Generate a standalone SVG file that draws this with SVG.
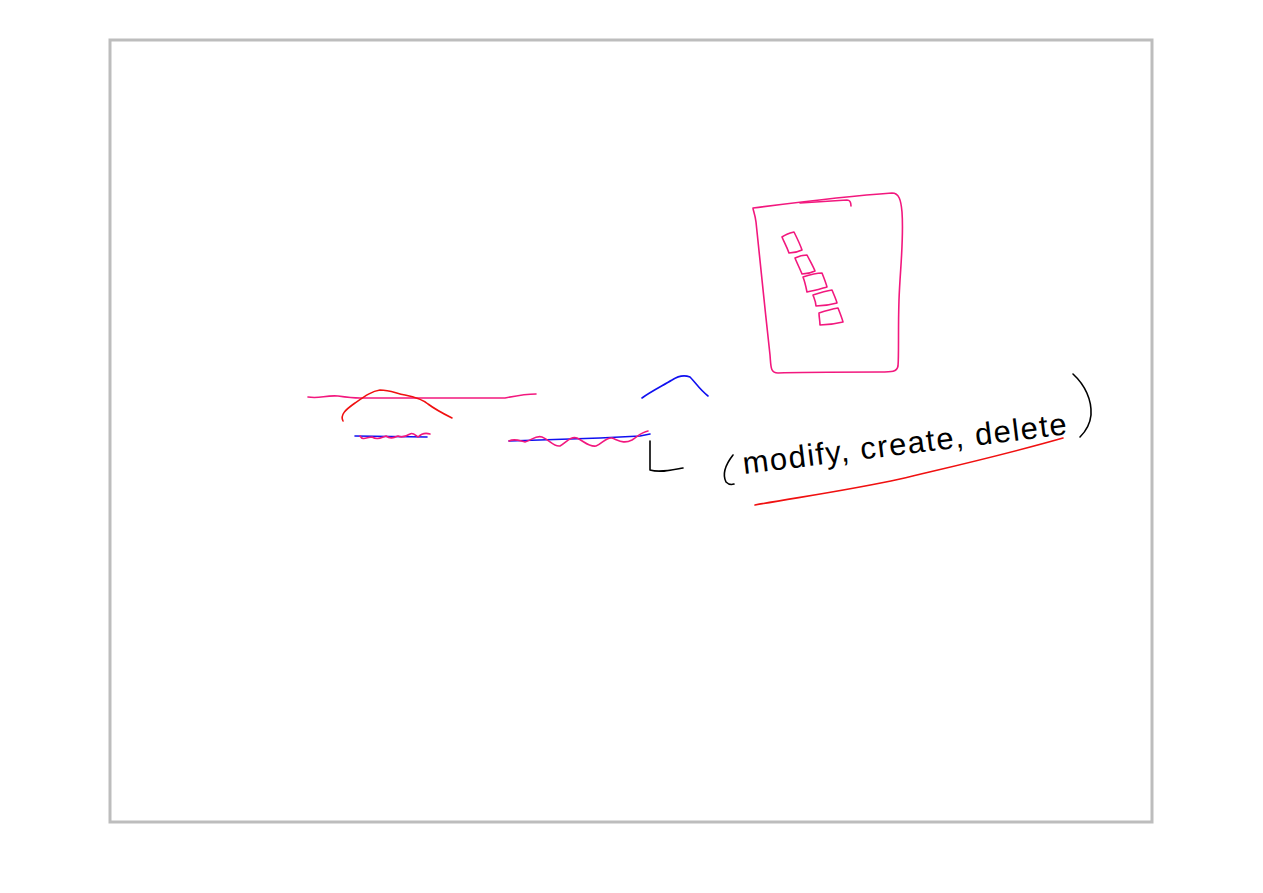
<svg xmlns="http://www.w3.org/2000/svg" width="1263" height="893" viewBox="0 0 1263 893">
<style>
.s{fill:none;stroke-linecap:round;stroke-linejoin:round;stroke-width:1.6}
.pk{stroke:#f2187e}
.rd{stroke:#f01010}
.bl{stroke:#1010f0}
.bk{stroke:#000}
.hw{font-family:"Liberation Sans","DejaVu Sans",sans-serif;font-size:31px;fill:#000}
</style>
<rect x="0" y="0" width="1263" height="893" fill="#fff"/>
<rect x="110" y="40" width="1042" height="782" fill="#fff" stroke="#bdbdbd" stroke-width="3"/>
<g id="page">
<path class="s pk" d="M753,208 C800,202 850,196 892,193 C899,193 901,200 902,212 C904,240 900,270 899,300 C898,330 899,355 898,366 C897,372 892,372 880,372 C840,372 800,372 778,373 C770,373 771,366 770,355 C765,310 760,260 756,222 C755,214 753,210 753,208 Z"/>
<path class="s pk" d="M800,203 C815,202 832,201 847,200 C850,200 851,203 851,206"/>
<path class="s pk" d="M782,237 C786,234 790,233 794,232 C797,238 800,244 802,250 C798,252 793,253 789,253 C787,247 784,242 782,237 Z"/>
<path class="s pk" d="M795,258 C799,256 803,255 807,255 C810,261 813,266 815,271 C811,273 806,274 802,274 C800,269 797,263 795,258 Z"/>
<path class="s pk" d="M803,277 C809,275 815,273 822,273 C824,278 826,283 827,287 C820,289 814,291 807,292 C806,287 805,282 803,277 Z"/>
<path class="s pk" d="M813,295 C819,293 825,291 832,290 C834,295 836,299 837,303 C830,305 823,306 816,306 C816,302 814,298 813,295 Z"/>
<path class="s pk" d="M819,313 C825,311 832,309 838,308 C840,313 842,318 843,322 C835,324 828,325 820,325 C820,321 819,317 819,313 Z"/>
</g>
<g id="strokes-left">
<path class="s pk" d="M308,397 C320,399 325,395 338,396 C345,397 352,398 360,398 L505,398 C515,396 525,394 536,394"/>
<path class="s rd" d="M343,421 C340,415 345,410 355,403 C365,396 372,391 380,390 C390,390 395,393 405,395 C415,397 422,399 428,404 C436,410 444,414 452,418"/>
<path class="s bl" d="M355,436 L427,437"/>
<path class="s pk" d="M360,436 C363,441 367,437 372,437 C377,440 380,438 386,436 C390,439 393,438 398,436 C402,438 405,437 410,434 C413,432 416,436 418,437 C421,434 424,432 430,434"/>
<path class="s bl" d="M509,441 L600,438 L640,436 L650,434"/>
<path class="s pk" d="M509,441 C515,438 520,441 525,442 C532,440 536,435 542,437 C550,440 553,447 560,446 C566,443 570,436 577,438 C584,441 588,447 596,446 C602,444 606,437 612,438 C620,441 624,444 632,440 C638,436 642,432 648,431"/>
<path class="s bl" d="M642,398 C650,392 662,386 672,380 C678,376 685,375 690,377 C695,382 700,390 708,396"/>
<path class="s bk" d="M650,441 L650,470 C660,473 672,470 683,468"/>
</g>
<g id="label">
<text class="hw" x="744" y="474" transform="rotate(-7 744 474)" textLength="326" lengthAdjust="spacing">modify, create, delete</text>
<path class="s bk" d="M733,455 C726,464 722,474 726,482 C728,484 731,485 734,484"/>
<path class="s bk" d="M1073,374 C1085,385 1092,400 1091,415 C1090,425 1085,432 1080,437"/>
<path class="s rd" d="M755,505 C800,497 850,490 900,479 C950,467 1000,456 1063,438"/>
</g>
</svg>
